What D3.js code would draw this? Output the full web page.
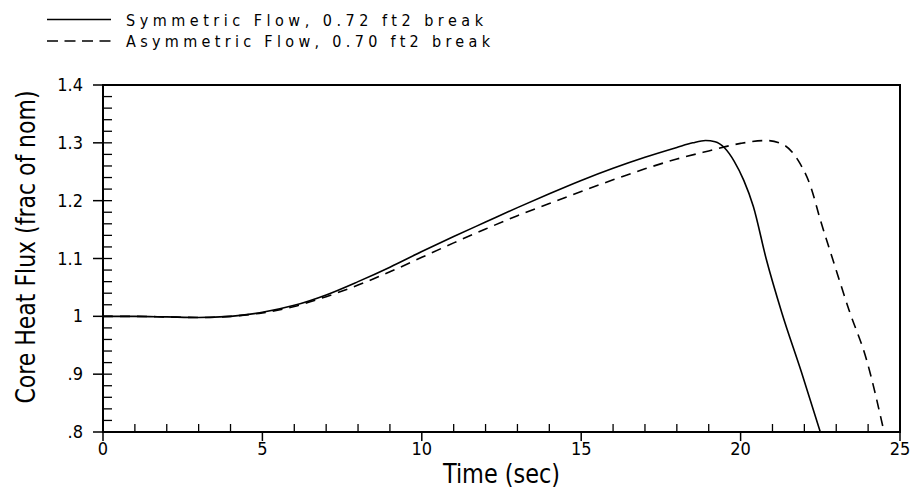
<!DOCTYPE html>
<html>
<head>
<meta charset="utf-8">
<script src="https://cdn.jsdelivr.net/npm/d3@7"></script>
<style>
  body { margin: 0; background: #fff; }
  text { font-family: "Liberation Sans Narrow", "DejaVu Sans Condensed", "Liberation Sans", sans-serif; fill: #000; }
</style>
</head>
<body>
<svg id="chart" width="912" height="496"></svg>
<script>
// series data
const symTime = [0, 1, 2, 3, 4, 5, 6, 7, 8, 9, 10, 11, 12, 13, 14, 15, 16, 17, 18, 18.5, 18.9, 19.2, 19.5, 19.8, 20.1, 20.4, 20.8, 21.3, 21.9, 22.5];
const symFlux = [1.000, 1.000, 0.999, 0.998, 1.000, 1.007, 1.019, 1.037, 1.060, 1.085, 1.112, 1.138, 1.163, 1.188, 1.212, 1.235, 1.256, 1.275, 1.292, 1.300, 1.304, 1.302, 1.291, 1.268, 1.235, 1.190, 1.100, 1.005, 0.905, 0.800];

const asymTime = [0, 1, 2, 3, 4, 5, 6, 7, 8, 9, 10, 11, 12, 13, 14, 15, 16, 17, 18, 19, 20, 20.8, 21.3, 21.8, 22.2, 22.5, 22.9, 23.4, 23.95, 24.5];
const asymFlux = [1.000, 1.000, 0.999, 0.998, 1.000, 1.006, 1.017, 1.034, 1.054, 1.077, 1.102, 1.127, 1.151, 1.174, 1.195, 1.216, 1.236, 1.255, 1.272, 1.286, 1.299, 1.304, 1.298, 1.270, 1.224, 1.167, 1.097, 1.011, 0.925, 0.800];

const seriesNames = ["Symmetric Flow, 0.72 ft2 break", "Asymmetric Flow, 0.70 ft2 break"];
const xTickLabels = ["0", "5", "10", "15", "20", "25"];
const yTickLabels = [".8", ".9", "1", "1.1", "1.2", "1.3", "1.4"];

const svg = d3.select("#chart");
const plotL = 103, plotR = 900, plotT = 85, plotB = 432;

const x = d3.scaleLinear().domain([0, 25]).range([plotL, plotR]);
const y = d3.scaleLinear().domain([0.8, 1.4]).range([plotB, plotT]);

// frame
svg.append("rect")
  .attr("x", plotL).attr("y", plotT)
  .attr("width", plotR - plotL).attr("height", plotB - plotT)
  .attr("fill", "none").attr("stroke", "#000").attr("stroke-width", 2);

// x ticks: minors up inside, majors down outside
const xMinor = d3.range(1, 25).filter(d => d % 5 !== 0);
svg.append("g").selectAll("line").data(xMinor).join("line")
  .attr("x1", d => x(d)).attr("x2", d => x(d))
  .attr("y1", plotB).attr("y2", plotB - 8)
  .attr("stroke", "#000").attr("stroke-width", 1.3);

const xMajor = xTickLabels.map(Number);
svg.append("g").selectAll("line").data(xMajor).join("line")
  .attr("x1", d => x(d)).attr("x2", d => x(d))
  .attr("y1", plotB).attr("y2", plotB + 9)
  .attr("stroke", "#000").attr("stroke-width", 1.5);

svg.append("g").selectAll("text").data(xTickLabels).join("text")
  .attr("x", d => x(+d)).attr("y", plotB + 23)
  .attr("text-anchor", "middle")
  .attr("font-size", 18)
  .text(d => d);

// y ticks: minors inward every .02, majors outward
const yMinor = d3.range(0, 31).map(i => 0.8 + i * 0.02).filter(d => d > 0.801 && d < 1.399);
svg.append("g").selectAll("line").data(yMinor).join("line")
  .attr("x1", plotL).attr("x2", plotL + 9)
  .attr("y1", d => y(d)).attr("y2", d => y(d))
  .attr("stroke", "#000").attr("stroke-width", 1.3);

const yMajor = yTickLabels.map(Number);
svg.append("g").selectAll("line").data(yMajor).join("line")
  .attr("x1", plotL - 10).attr("x2", plotL)
  .attr("y1", d => y(d)).attr("y2", d => y(d))
  .attr("stroke", "#000").attr("stroke-width", 1.5);

svg.append("g").selectAll("text").data(yTickLabels).join("text")
  .attr("x", plotL - 20).attr("y", d => y(+d) + 6)
  .attr("text-anchor", "end")
  .attr("font-size", 18)
  .text(d => d);

// axis titles
svg.append("text")
  .attr("x", x(12.5)).attr("y", 483)
  .attr("text-anchor", "middle")
  .attr("font-family", "Liberation Sans, sans-serif")
  .attr("font-size", 26)
  .attr("textLength", 117)
  .attr("lengthAdjust", "spacingAndGlyphs")
  .text("Time (sec)");

svg.append("text")
  .attr("transform", "translate(35,247) rotate(-90)")
  .attr("text-anchor", "middle")
  .attr("font-family", "Liberation Sans, sans-serif")
  .attr("font-size", 27)
  .attr("textLength", 313)
  .attr("lengthAdjust", "spacingAndGlyphs")
  .text("Core Heat Flux (frac of nom)");

// curves
const line = d3.line()
  .x(d => x(d[0]))
  .y(d => y(d[1]))
  .curve(d3.curveMonotoneX);

svg.append("clipPath").attr("id", "plotclip")
  .append("rect").attr("x", plotL).attr("y", plotT)
  .attr("width", plotR - plotL).attr("height", plotB - plotT);

const series = [
  { pts: d3.zip(symTime, symFlux), dash: null },
  { pts: d3.zip(asymTime, asymFlux), dash: "10,7" }
];

svg.append("g").attr("clip-path", "url(#plotclip)")
  .selectAll("path").data(series).join("path")
  .attr("d", d => line(d.pts))
  .attr("fill", "none")
  .attr("stroke", "#000")
  .attr("stroke-width", 1.6)
  .attr("stroke-dasharray", d => d.dash);

// legend
const legend = svg.append("g");
const legendRows = [
  { name: seriesNames[0], dash: null, y: 19.5 },
  { name: seriesNames[1], dash: "11,6.5", y: 41 }
];
legend.selectAll("line").data(legendRows).join("line")
  .attr("x1", 47).attr("x2", 111)
  .attr("y1", d => d.y).attr("y2", d => d.y)
  .attr("stroke", "#000").attr("stroke-width", 1.6)
  .attr("stroke-dasharray", d => d.dash);

legend.selectAll("text").data(legendRows).join("text")
  .attr("x", 126).attr("y", d => d.y + 6)
  .attr("font-size", 16)
  .attr("font-family", "Liberation Sans, Arial, sans-serif")
  .attr("textLength", (d, i) => i === 0 ? 357 : 364)
  .attr("lengthAdjust", "spacing")
  .text(d => d.name);
</script>
</body>
</html>
